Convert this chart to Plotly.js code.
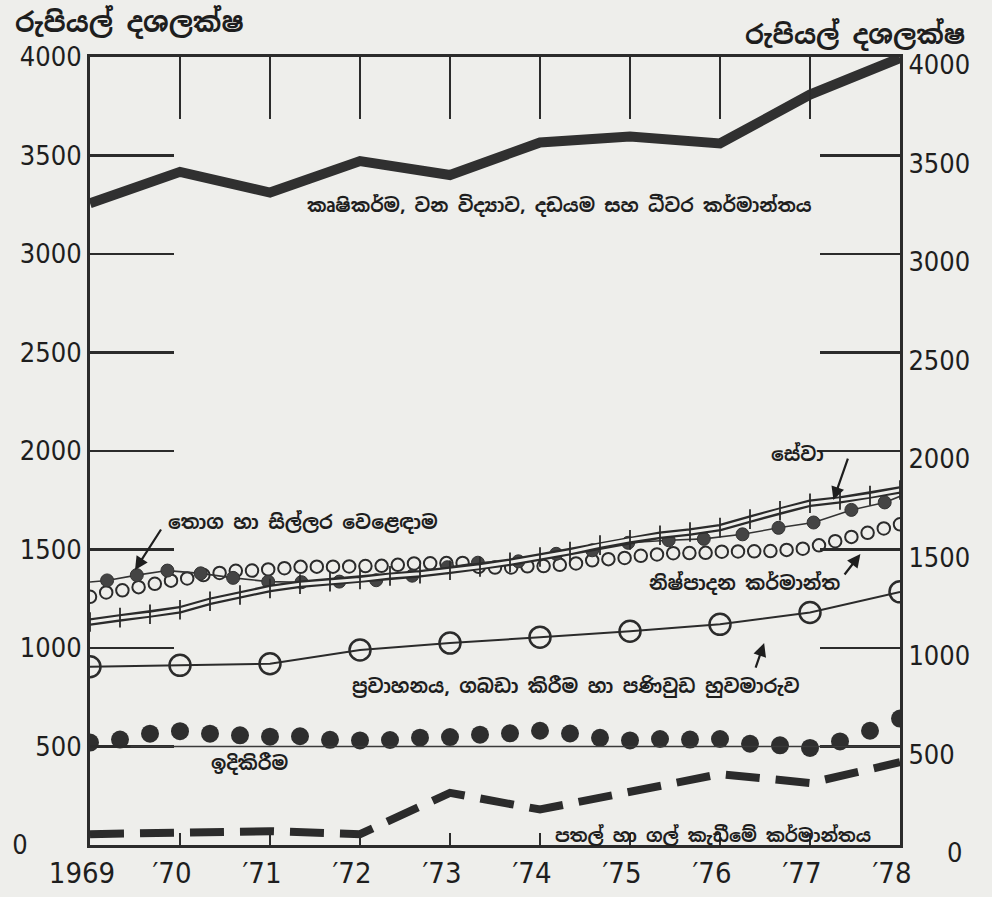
<!DOCTYPE html>
<html><head><meta charset="utf-8">
<script src="https://cdn.plot.ly/plotly-3.0.1.min.js"></script>
<style>body{margin:0;background:#eeeeeb}</style>
</head><body><div id="chart" style="width:992px;height:897px"></div>
<script>
// ---- data ----
const years = [1969, 1970, 1971, 1972, 1973, 1974, 1975, 1976, 1977, 1978];
const yearLabels = ['1969', '′70', '′71', '′72', '′73', '′74', '′75', '′76', '′77', '′78'];
const yTicks = [0, 500, 1000, 1500, 2000, 2500, 3000, 3500, 4000];
const yTickLabels = ['0', '500', '1000', '1500', '2000', '2500', '3000', '3500', '4000'];

const agriculture = [3258, 3417, 3312, 3472, 3401, 3566, 3596, 3561, 3809, 3995];
const transport = [905, 912, 920, 990, 1025, 1055, 1085, 1120, 1180, 1285];
const mining = [55, 65, 70, 55, 265, 180, 265, 360, 315, 420];

// construction: dots every third of a year
const construction = [520, 535, 565, 578, 565, 557, 550, 552, 534, 531, 533, 545, 548, 560,
  567, 580, 566, 544, 531, 538, 535, 538, 514, 506, 493, 526, 580, 642];

// services: double line with cross ticks, read every third of a year
const services = [1132, 1154, 1171, 1194, 1237, 1269, 1302, 1324, 1336, 1348, 1366, 1377, 1395, 1412,
  1435, 1462, 1489, 1522, 1549, 1572, 1589, 1611, 1654, 1697, 1735, 1752, 1774, 1802];

// wholesale & retail trade: dots on a thin line
const tradeYears = [1969, 1969.19, 1969.52, 1969.86, 1970.23, 1970.59, 1970.98, 1971.35, 1971.77, 1972.18,
  1972.58, 1972.97, 1973.31, 1973.76, 1974.18, 1974.58, 1974.98, 1975.43, 1975.82, 1976.25, 1976.65,
  1977.04, 1977.46, 1977.83, 1978];
const trade = [1335, 1343, 1370, 1393, 1379, 1356, 1337, 1334, 1337, 1344, 1367, 1410, 1433, 1440, 1478,
  1496, 1534, 1547, 1554, 1577, 1610, 1637, 1701, 1739, 1770];

// manufacturing: dense open circles
const manufacturing = [1260, 1282, 1293, 1309, 1326, 1342, 1353, 1370, 1381, 1392,
  1393, 1399, 1405, 1412, 1413, 1413, 1414, 1416, 1417, 1422,
  1429, 1430, 1431, 1432, 1412, 1408, 1409, 1415, 1416, 1422,
  1429, 1445, 1451, 1457, 1468, 1475, 1481, 1482, 1483, 1489,
  1490, 1491, 1492, 1498, 1504, 1521, 1542, 1564, 1585, 1607, 1628];

const labels = {
  unit: 'රුපියල් දශලක්ෂ',
  agriculture: 'කෘෂිකර්ම, වන විද්‍යාව, දඩයම සහ ධීවර කර්මාන්තය',
  services: 'සේවා',
  trade: 'තොග හා සිල්ලර වෙළෙඳාම',
  manufacturing: 'නිෂ්පාදන කර්මාන්ත',
  transport: 'ප්‍රවාහනය, ගබඩා කිරීම හා පණිවුඩ හුවමාරුව',
  construction: 'ඉදිකිරීම',
  mining: 'පතල් හා ගල් කැඩීමේ කර්මාන්තය'
};

// ---- drawing ----
const ink = '#2b2b2b';
const bg = '#eeeeeb';
const sinFont = 'Noto Sans Sinhala, Noto Sans, DejaVu Sans, sans-serif';
const numFont = 'DejaVu Sans Condensed, DejaVu Sans, sans-serif';
const nb = '\u00a0';

// the scanned "0" labels sit away from the others
const leftLabels = yTickLabels.map((t, i) => i === 0 ? t + nb.repeat(7) : t);
const rightLabels = yTickLabels.map((t, i) => i === 0 ? nb.repeat(5) + t : t);

const traces = [
  {x: years, y: mining, mode: 'lines', line: {color: ink, width: 8, dash: '34px,16px'}, hoverinfo: 'skip'},
  {x0: 1969, dx: 1/3, y: construction, mode: 'markers', marker: {color: '#2e2e2e', size: 18, opacity: 1}, hoverinfo: 'skip'},
  {x: years, y: transport, mode: 'lines+markers', line: {color: ink, width: 2},
   marker: {symbol: 'circle-open', size: 21, color: ink, line: {width: 2.5, color: ink}}, hoverinfo: 'skip'},
  {x0: 1969, dx: 9 / (manufacturing.length - 1), y: manufacturing, mode: 'markers',
   marker: {symbol: 'circle-open', size: 12.5, color: ink, line: {width: 2, color: ink}}, hoverinfo: 'skip'},
  {x: tradeYears, y: trade, mode: 'lines+markers', line: {color: '#333', width: 1.6},
   marker: {color: '#444', opacity: 1, size: trade.map((v, i) => (i === 0 || i === trade.length - 1) ? 0 : 13)}, hoverinfo: 'skip'},
  {x0: 1969, dx: 1/3, y: services, mode: 'lines', line: {color: ink, width: 7.5}, hoverinfo: 'skip'},
  {x0: 1969, dx: 1/3, y: services, mode: 'lines', line: {color: bg, width: 3}, hoverinfo: 'skip'},
  {x0: 1969, dx: 1/3, y: services, mode: 'markers',
   marker: {symbol: 'line-ns-open', size: 14, color: ink, line: {width: 1.8, color: ink}}, hoverinfo: 'skip'},
  {x: years, y: agriculture, mode: 'lines', line: {color: '#303030', width: 10}, hoverinfo: 'skip'},
  {x: [years[0]], y: [yTicks[0]], xaxis: 'x2', yaxis: 'y2', mode: 'markers', marker: {opacity: 0}, hoverinfo: 'skip'}
];

function note(x, y, text, size) {
  return {x: x, y: y, xref: 'x', yref: 'y', xanchor: 'center', yanchor: 'middle',
          text: '<b>' + text + '</b>', showarrow: false,
          font: {family: sinFont, size: size || 19, color: '#1e1e1e'}};
}
function arrow(x, y, ax, ay) {
  return {x: x, y: y, xref: 'x', yref: 'y', text: '', showarrow: true, ax: ax, ay: ay,
          arrowhead: 2, arrowsize: 1.2, arrowwidth: 2.2, arrowcolor: '#1e1e1e'};
}

const annotations = [
  {xref: 'paper', yref: 'paper', x: 0.049, y: 1.044, xanchor: 'center', yanchor: 'middle',
   text: '<b>' + labels.unit + '</b>', showarrow: false, font: {family: sinFont, size: 27, color: '#1e1e1e'}},
  {xref: 'paper', yref: 'paper', x: 0.944, y: 1.028, xanchor: 'center', yanchor: 'middle',
   text: '<b>' + labels.unit + '</b>', showarrow: false, font: {family: sinFont, size: 26, color: '#1e1e1e'}},
  note(1974.22, 3249, labels.agriculture, 18.6),
  note(1976.86, 1985, labels.services),
  arrow(1977.26, 1751, 15, -43),
  note(1971.37, 1640, labels.trade),
  arrow(1969.5, 1396, 27, -42),
  note(1976.27, 1330, labels.manufacturing),
  arrow(1977.56, 1477, -17, 22),
  note(1974.4, 807, labels.transport),
  arrow(1976.49, 1025, -9, 26),
  note(1970.78, 416, labels.construction),
  note(1975.92, 51, labels.mining, 18)
];

const shapes = [
  {type: 'line', xref: 'x', yref: 'y', x0: 1969.45, x1: 1978, y0: 500, y1: 500,
   line: {color: '#3a3a3a', width: 1.5}}
];

const layout = {
  width: 992, height: 897,
  margin: {l: 90, r: 92, t: 57, b: 52},
  paper_bgcolor: bg, plot_bgcolor: bg,
  showlegend: false,
  xaxis: {range: [1969, 1978], tickvals: years, ticktext: yearLabels, ticks: 'inside', ticklen: 12,
          tickwidth: 2, tickcolor: ink, showline: true, linewidth: 3, linecolor: ink, showgrid: false,
          zeroline: false, ticklabelshift: -8,
          tickfont: {family: numFont, size: 29, color: '#1e1e1e'}},
  xaxis2: {overlaying: 'x', side: 'top', anchor: 'y', range: [1969, 1978], tickvals: years.slice(1, 9),
           ticks: 'inside', ticklen: 62, tickwidth: 2, tickcolor: ink, showticklabels: false,
           showline: true, linewidth: 3, linecolor: ink, showgrid: false, zeroline: false},
  yaxis: {range: [0, 4000], tickvals: yTicks, ticktext: leftLabels, ticks: 'inside', ticklen: 84, tickwidth: 2.5,
          tickcolor: ink, showline: true, linewidth: 3, linecolor: ink, showgrid: false, zeroline: false,
          tickfont: {family: numFont, size: 27, color: '#1e1e1e'}},
  yaxis2: {overlaying: 'y', side: 'right', anchor: 'x', range: [0, 4000], tickvals: yTicks, ticktext: rightLabels,
           ticks: 'inside', ticklen: 80, tickwidth: 2.5, tickcolor: ink, showline: true, linewidth: 3,
           linecolor: ink, showgrid: false, zeroline: false, ticklabelshift: 8,
           tickfont: {family: numFont, size: 27, color: '#1e1e1e'}},
  annotations: annotations,
  shapes: shapes
};

Plotly.newPlot('chart', traces, layout, {displayModeBar: false, staticPlot: true});
</script>
</body></html>
